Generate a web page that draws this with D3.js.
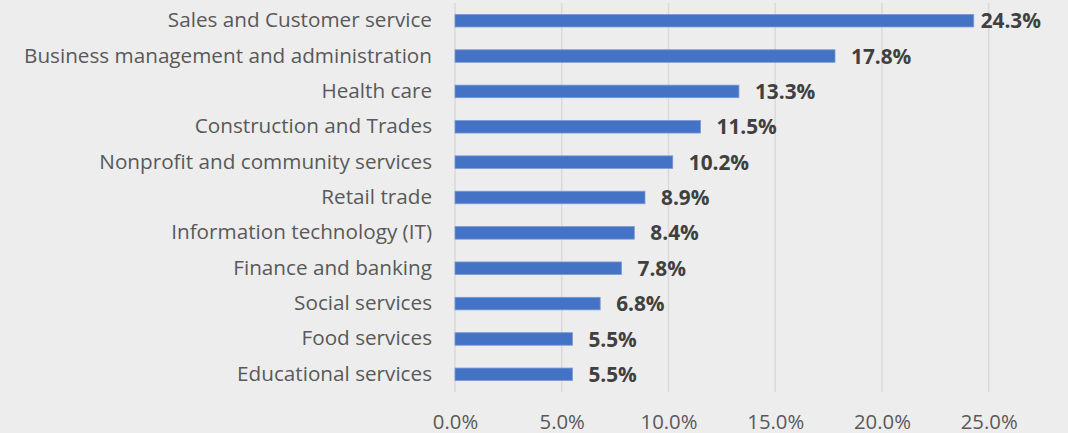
<!DOCTYPE html>
<html>
<head>
<meta charset="utf-8">
<script src="https://cdn.jsdelivr.net/npm/d3@7"></script>
<style>
  html, body { margin: 0; padding: 0; background: #ededed; }
  svg { display: block; }
</style>
</head>
<body>
<svg id="chart" width="1068" height="433"></svg>
<script>
// Share of respondents by industry sector (percent)
const categories = [
  "Sales and Customer service",
  "Business management and administration",
  "Health care",
  "Construction and Trades",
  "Nonprofit and community services",
  "Retail trade",
  "Information technology (IT)",
  "Finance and banking",
  "Social services",
  "Food services",
  "Educational services"
];
const values = [24.3, 17.8, 13.3, 11.5, 10.2, 8.9, 8.4, 7.8, 6.8, 5.5, 5.5];
const tickValues = [0, 5, 10, 15, 20, 25];

const width = 1068, height = 433;
const margin = { top: 3, right: 80, bottom: 41, left: 455 };
const plotRight = 988.7;
const fontFamily = "'Open Sans', 'Noto Sans', sans-serif";

const svg = d3.select("#chart");
svg.append("rect").attr("width", width).attr("height", height).attr("fill", "#ededed");

const x = d3.scaleLinear().domain([0, 25]).range([margin.left, plotRight]);
const y = d3.scaleBand()
  .domain(categories)
  .range([margin.top, height - margin.bottom])
  .paddingInner(0.645)
  .paddingOuter(0.3225);

// vertical gridlines
svg.append("g")
  .selectAll("line")
  .data(tickValues)
  .join("line")
  .attr("x1", d => x(d)).attr("x2", d => x(d))
  .attr("y1", margin.top).attr("y2", height - margin.bottom)
  .attr("stroke", "#d9d9d9")
  .attr("stroke-width", 1.5);

// x axis tick labels
const xAxis = d3.axisBottom(x)
  .tickValues(tickValues)
  .tickFormat(d => d3.format(".1f")(d) + "%")
  .tickSize(0)
  .tickPadding(0);
const gx = svg.append("g")
  .attr("transform", `translate(0, ${height - margin.bottom})`)
  .call(xAxis);
gx.select(".domain").remove();
gx.selectAll("text")
  .attr("dy", null)
  .attr("y", 32)
  .attr("dominant-baseline", "middle")
  .attr("fill", "#595959")
  .style("font-family", fontFamily)
  .style("font-size", "20.3px");

// category labels
const yAxis = d3.axisLeft(y).tickSize(0).tickPadding(0);
const gy = svg.append("g")
  .attr("transform", `translate(${margin.left - 23}, 0)`)
  .call(yAxis);
gy.select(".domain").remove();
gy.selectAll("text")
  .attr("dy", null)
  .attr("y", 1)
  .attr("dominant-baseline", "middle")
  .attr("fill", "#595959")
  .style("font-family", fontFamily)
  .style("font-size", "20.7px");

const data = categories.map((c, i) => ({ category: c, value: values[i] }));

// bars
svg.append("g")
  .selectAll("rect")
  .data(data)
  .join("rect")
  .attr("x", x(0))
  .attr("y", d => y(d.category))
  .attr("width", d => x(d.value) - x(0))
  .attr("height", y.bandwidth())
  .attr("fill", "#4472c4")
  .attr("stroke", "#7b9ad6")
  .attr("stroke-width", 0.8);

// value labels, kept inside the chart's right edge
const labelLimit = 1041;
svg.append("g")
  .selectAll("text")
  .data(data)
  .join("text")
  .attr("y", d => y(d.category) + y.bandwidth() / 2 + 2)
  .attr("dominant-baseline", "middle")
  .attr("fill", "#404040")
  .style("font-family", fontFamily)
  .style("font-size", "20.8px")
  .style("font-weight", "bold")
  .text(d => d3.format(".1f")(d.value) + "%")
  .attr("x", function (d) {
    const w = this.getComputedTextLength();
    return Math.min(x(d.value) + 16, labelLimit - w);
  });
</script>
</body>
</html>
